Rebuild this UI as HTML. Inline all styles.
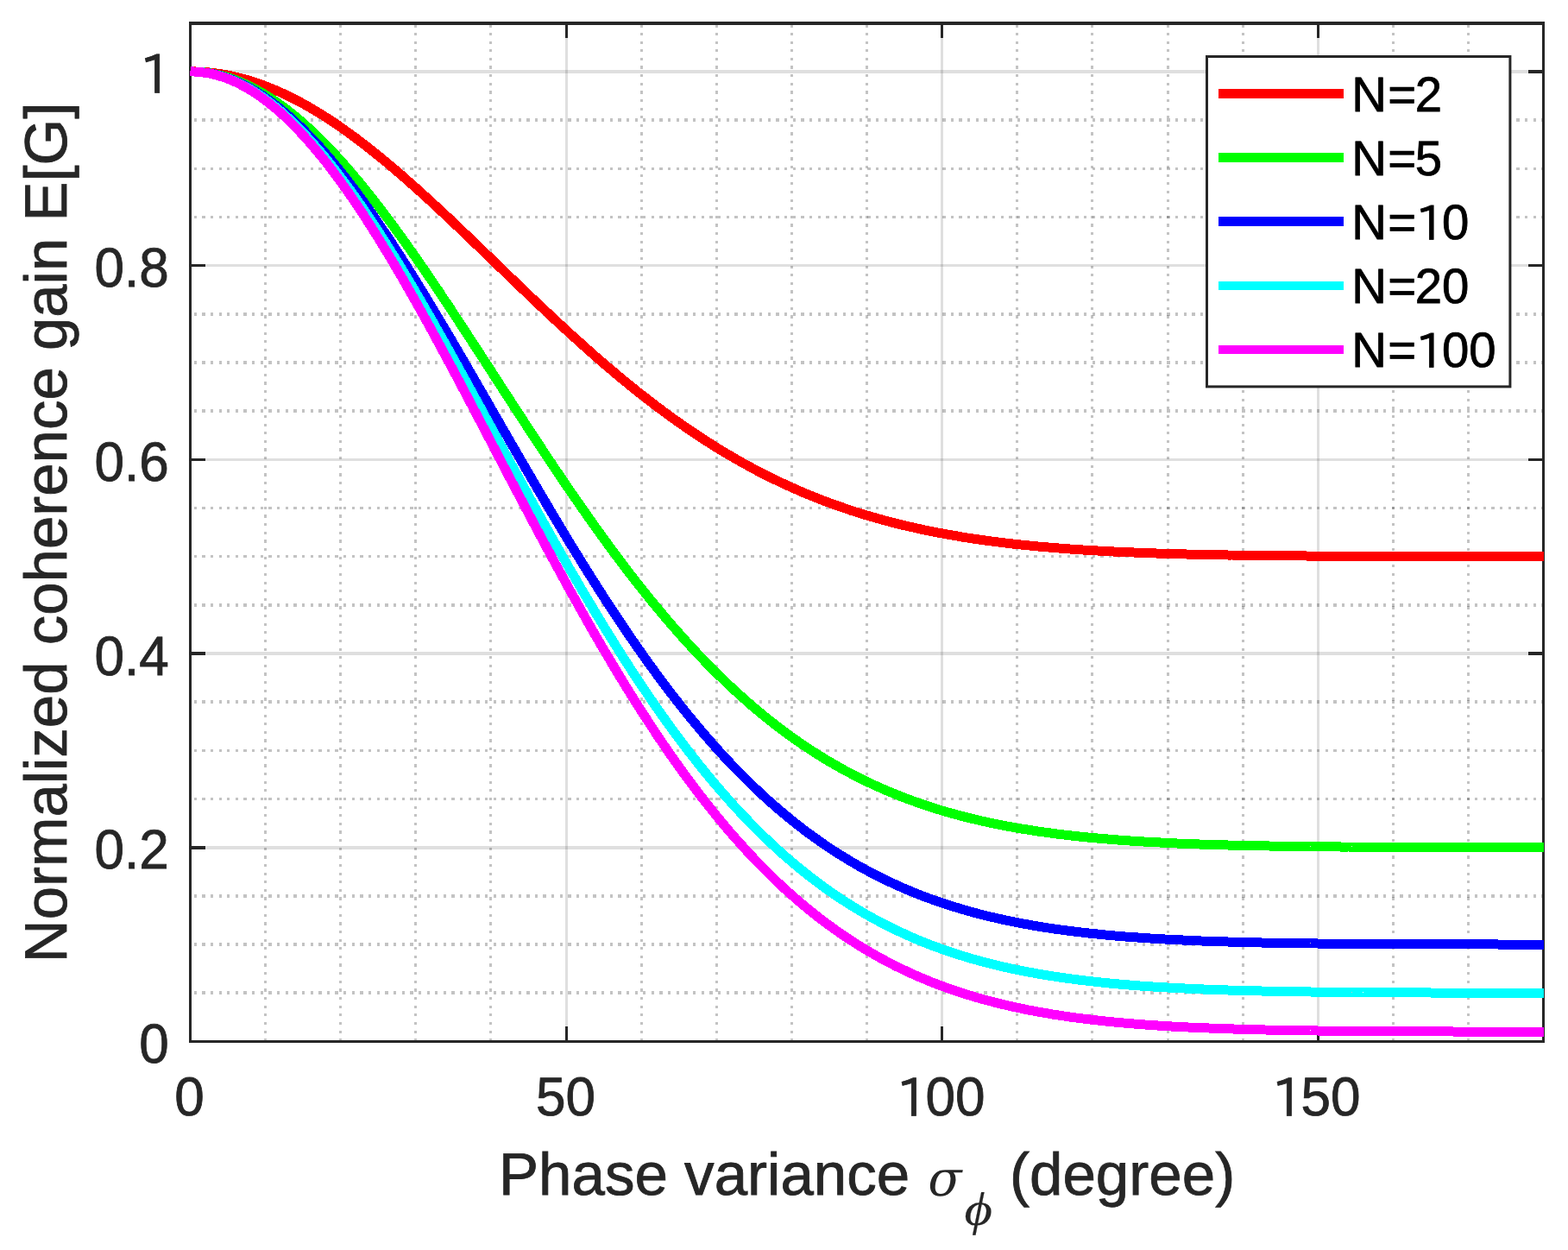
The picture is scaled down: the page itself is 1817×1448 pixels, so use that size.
<!DOCTYPE html>
<html><head><meta charset="utf-8"><title>Normalized coherence gain</title>
<style>html,body{margin:0;padding:0;background:#fff;}body{width:1817px;height:1448px;overflow:hidden;}svg{display:block;text-rendering:geometricPrecision;}</style>
</head><body>
<svg width="1817" height="1448" viewBox="0 0 1817 1448">
<rect x="0" y="0" width="1817" height="1448" fill="#fff"/>
<g shape-rendering="crispEdges" fill="none">
<path d="M307.62 28.3V1206.40M394.73 28.3V1206.40M481.85 28.3V1206.40M568.97 28.3V1206.40M743.20 28.3V1206.40M830.32 28.3V1206.40M917.43 28.3V1206.40M1004.55 28.3V1206.40M1178.78 28.3V1206.40M1265.90 28.3V1206.40M1353.02 28.3V1206.40M1440.13 28.3V1206.40M1614.37 28.3V1206.40M1701.48 28.3V1206.40" stroke="#262626" stroke-opacity="0.28" stroke-width="3" stroke-dasharray="3.2 6.43"/>
<path d="M224.6 1150.23H1788.60M224.6 1094.05H1788.60M224.6 1037.88H1788.60M224.6 925.53H1788.60M224.6 869.35H1788.60M224.6 813.18H1788.60M224.6 700.83H1788.60M224.6 644.65H1788.60M224.6 588.48H1788.60M224.6 476.13H1788.60M224.6 419.95H1788.60M224.6 363.78H1788.60M224.6 251.42H1788.60M224.6 195.25H1788.60M224.6 139.08H1788.60" stroke="#262626" stroke-opacity="0.28" stroke-width="3.5" stroke-dasharray="3.3 6.34"/>
<path d="M656.08 26.73V1206.40M1091.67 26.73V1206.40M1527.25 26.73V1206.40" stroke="#262626" stroke-opacity="0.15" stroke-width="3"/>
<path d="M220.50 981.80H1788.60M220.50 757.10H1788.60M220.50 532.40H1788.60M220.50 307.70H1788.60M220.50 83.00H1788.60" stroke="#262626" stroke-opacity="0.15" stroke-width="3.5"/>
<path d="M220.50 1206.40v-17.5M220.50 26.73v17.5M656.08 1206.40v-17.5M656.08 26.73v17.5M1091.67 1206.40v-17.5M1091.67 26.73v17.5M1527.25 1206.40v-17.5M1527.25 26.73v17.5" stroke="#262626" stroke-width="3"/>
<path d="M220.50 1206.40h17.5M1788.60 1206.40h-17.5M220.50 981.80h17.5M1788.60 981.80h-17.5M220.50 757.10h17.5M1788.60 757.10h-17.5M220.50 532.40h17.5M1788.60 532.40h-17.5M220.50 307.70h17.5M1788.60 307.70h-17.5M220.50 83.00h17.5M1788.60 83.00h-17.5" stroke="#262626" stroke-width="3.5"/>
<path d="M219.00 1206.40H1790.10" stroke="#262626" stroke-width="3"/>
<path d="M219.00 26.83H1790.10" stroke="#262626" stroke-width="4"/>
<path d="M220.50 25.23V1207.90M1788.60 25.23V1207.90" stroke="#262626" stroke-width="3"/>
</g>
<g fill="none" stroke-width="11" stroke-linejoin="round" shape-rendering="crispEdges">
<polyline points="220.5,82.9 224.9,82.9 229.2,83.1 233.6,83.3 237.9,83.6 242.3,84.0 246.6,84.4 251.0,85.0 255.3,85.6 259.7,86.4 264.1,87.2 268.4,88.1 272.8,89.0 277.1,90.1 281.5,91.2 285.8,92.4 290.2,93.7 294.5,95.1 298.9,96.6 303.3,98.1 307.6,99.8 312.0,101.5 316.3,103.2 320.7,105.1 325.0,107.0 329.4,109.0 333.8,111.1 338.1,113.2 342.5,115.5 346.8,117.7 351.2,120.1 355.5,122.5 359.9,125.0 364.2,127.6 368.6,130.2 373.0,132.9 377.3,135.7 381.7,138.5 386.0,141.4 390.4,144.3 394.7,147.3 399.1,150.4 403.4,153.5 407.8,156.7 412.2,159.9 416.5,163.2 420.9,166.5 425.2,169.9 429.6,173.3 433.9,176.8 438.3,180.3 442.6,183.8 447.0,187.4 451.4,191.1 455.7,194.8 460.1,198.5 464.4,202.2 468.8,206.0 473.1,209.9 477.5,213.7 481.9,217.6 486.2,221.5 490.6,225.5 494.9,229.4 499.3,233.4 503.6,237.4 508.0,241.5 512.3,245.6 516.7,249.6 521.1,253.7 525.4,257.9 529.8,262.0 534.1,266.1 538.5,270.3 542.8,274.5 547.2,278.6 551.5,282.8 555.9,287.0 560.3,291.2 564.6,295.4 569.0,299.6 573.3,303.8 577.7,308.0 582.0,312.2 586.4,316.4 590.7,320.6 595.1,324.8 599.5,329.0 603.8,333.2 608.2,337.3 612.5,341.5 616.9,345.7 621.2,349.8 625.6,353.9 629.9,358.0 634.3,362.1 638.7,366.2 643.0,370.3 647.4,374.3 651.7,378.3 656.1,382.3 660.4,386.3 664.8,390.3 669.2,394.2 673.5,398.1 677.9,402.0 682.2,405.9 686.6,409.7 690.9,413.6 695.3,417.4 699.6,421.1 704.0,424.8 708.4,428.5 712.7,432.2 717.1,435.9 721.4,439.5 725.8,443.0 730.1,446.6 734.5,450.1 738.8,453.6 743.2,457.0 747.6,460.4 751.9,463.8 756.3,467.2 760.6,470.5 765.0,473.7 769.3,477.0 773.7,480.2 778.0,483.3 782.4,486.5 786.8,489.6 791.1,492.6 795.5,495.6 799.8,498.6 804.2,501.5 808.5,504.4 812.9,507.3 817.2,510.1 821.6,512.9 826.0,515.7 830.3,518.4 834.7,521.1 839.0,523.7 843.4,526.3 847.7,528.8 852.1,531.4 856.5,533.8 860.8,536.3 865.2,538.7 869.5,541.1 873.9,543.4 878.2,545.7 882.6,548.0 886.9,550.2 891.3,552.4 895.7,554.5 900.0,556.6 904.4,558.7 908.7,560.7 913.1,562.7 917.4,564.7 921.8,566.6 926.1,568.5 930.5,570.4 934.9,572.2 939.2,574.0 943.6,575.8 947.9,577.5 952.3,579.2 956.6,580.8 961.0,582.5 965.3,584.1 969.7,585.6 974.1,587.1 978.4,588.6 982.8,590.1 987.1,591.6 991.5,593.0 995.8,594.3 1000.2,595.7 1004.5,597.0 1008.9,598.3 1013.3,599.6 1017.6,600.8 1022.0,602.0 1026.3,603.2 1030.7,604.3 1035.0,605.5 1039.4,606.6 1043.8,607.7 1048.1,608.7 1052.5,609.7 1056.8,610.7 1061.2,611.7 1065.5,612.7 1069.9,613.6 1074.2,614.5 1078.6,615.4 1083.0,616.3 1087.3,617.1 1091.7,617.9 1096.0,618.7 1100.4,619.5 1104.7,620.3 1109.1,621.0 1113.4,621.8 1117.8,622.5 1122.2,623.2 1126.5,623.8 1130.9,624.5 1135.2,625.1 1139.6,625.7 1143.9,626.3 1148.3,626.9 1152.6,627.5 1157.0,628.0 1161.4,628.6 1165.7,629.1 1170.1,629.6 1174.4,630.1 1178.8,630.6 1183.1,631.0 1187.5,631.5 1191.9,631.9 1196.2,632.3 1200.6,632.8 1204.9,633.2 1209.3,633.6 1213.6,633.9 1218.0,634.3 1222.3,634.7 1226.7,635.0 1231.1,635.3 1235.4,635.7 1239.8,636.0 1244.1,636.3 1248.5,636.6 1252.8,636.9 1257.2,637.1 1261.5,637.4 1265.9,637.7 1270.3,637.9 1274.6,638.2 1279.0,638.4 1283.3,638.6 1287.7,638.8 1292.0,639.1 1296.4,639.3 1300.7,639.5 1305.1,639.7 1309.5,639.8 1313.8,640.0 1318.2,640.2 1322.5,640.4 1326.9,640.5 1331.2,640.7 1335.6,640.8 1339.9,641.0 1344.3,641.1 1348.7,641.3 1353.0,641.4 1357.4,641.5 1361.7,641.6 1366.1,641.8 1370.4,641.9 1374.8,642.0 1379.2,642.1 1383.5,642.2 1387.9,642.3 1392.2,642.4 1396.6,642.5 1400.9,642.6 1405.3,642.6 1409.6,642.7 1414.0,642.8 1418.4,642.9 1422.7,643.0 1427.1,643.0 1431.4,643.1 1435.8,643.2 1440.1,643.2 1444.5,643.3 1448.8,643.3 1453.2,643.4 1457.6,643.4 1461.9,643.5 1466.3,643.5 1470.6,643.6 1475.0,643.6 1479.3,643.7 1483.7,643.7 1488.0,643.8 1492.4,643.8 1496.8,643.8 1501.1,643.9 1505.5,643.9 1509.8,643.9 1514.2,644.0 1518.5,644.0 1522.9,644.0 1527.2,644.1 1531.6,644.1 1536.0,644.1 1540.3,644.1 1544.7,644.2 1549.0,644.2 1553.4,644.2 1557.7,644.2 1562.1,644.2 1566.5,644.3 1570.8,644.3 1575.2,644.3 1579.5,644.3 1583.9,644.3 1588.2,644.3 1592.6,644.4 1596.9,644.4 1601.3,644.4 1605.7,644.4 1610.0,644.4 1614.4,644.4 1618.7,644.4 1623.1,644.4 1627.4,644.5 1631.8,644.5 1636.1,644.5 1640.5,644.5 1644.9,644.5 1649.2,644.5 1653.6,644.5 1657.9,644.5 1662.3,644.5 1666.6,644.5 1671.0,644.5 1675.3,644.5 1679.7,644.5 1684.1,644.5 1688.4,644.6 1692.8,644.6 1697.1,644.6 1701.5,644.6 1705.8,644.6 1710.2,644.6 1714.6,644.6 1718.9,644.6 1723.3,644.6 1727.6,644.6 1732.0,644.6 1736.3,644.6 1740.7,644.6 1745.0,644.6 1749.4,644.6 1753.8,644.6 1758.1,644.6 1762.5,644.6 1766.8,644.6 1771.2,644.6 1775.5,644.6 1779.9,644.6 1784.2,644.6 1788.6,644.6" stroke="#ff0000"/>
<polyline points="220.5,82.9 224.9,83.0 229.2,83.2 233.6,83.5 237.9,84.0 242.3,84.6 246.6,85.4 251.0,86.2 255.3,87.3 259.7,88.4 264.1,89.7 268.4,91.1 272.8,92.7 277.1,94.4 281.5,96.2 285.8,98.2 290.2,100.3 294.5,102.5 298.9,104.8 303.3,107.3 307.6,109.9 312.0,112.6 316.3,115.4 320.7,118.4 325.0,121.5 329.4,124.7 333.8,128.0 338.1,131.4 342.5,135.0 346.8,138.7 351.2,142.4 355.5,146.3 359.9,150.3 364.2,154.4 368.6,158.6 373.0,163.0 377.3,167.4 381.7,171.9 386.0,176.5 390.4,181.2 394.7,186.0 399.1,190.9 403.4,195.9 407.8,201.0 412.2,206.1 416.5,211.3 420.9,216.7 425.2,222.1 429.6,227.5 433.9,233.1 438.3,238.7 442.6,244.4 447.0,250.2 451.4,256.0 455.7,261.9 460.1,267.8 464.4,273.8 468.8,279.9 473.1,286.0 477.5,292.2 481.9,298.4 486.2,304.7 490.6,311.0 494.9,317.4 499.3,323.7 503.6,330.2 508.0,336.6 512.3,343.1 516.7,349.7 521.1,356.2 525.4,362.8 529.8,369.4 534.1,376.1 538.5,382.7 542.8,389.4 547.2,396.1 551.5,402.8 555.9,409.5 560.3,416.2 564.6,422.9 569.0,429.6 573.3,436.4 577.7,443.1 582.0,449.8 586.4,456.5 590.7,463.2 595.1,470.0 599.5,476.7 603.8,483.3 608.2,490.0 612.5,496.7 616.9,503.3 621.2,509.9 625.6,516.5 629.9,523.1 634.3,529.7 638.7,536.2 643.0,542.7 647.4,549.2 651.7,555.6 656.1,562.0 660.4,568.4 664.8,574.7 669.2,581.0 673.5,587.3 677.9,593.5 682.2,599.7 686.6,605.9 690.9,612.0 695.3,618.0 699.6,624.0 704.0,630.0 708.4,635.9 712.7,641.8 717.1,647.6 721.4,653.4 725.8,659.1 730.1,664.8 734.5,670.4 738.8,676.0 743.2,681.5 747.6,687.0 751.9,692.4 756.3,697.7 760.6,703.0 765.0,708.2 769.3,713.4 773.7,718.5 778.0,723.6 782.4,728.6 786.8,733.5 791.1,738.4 795.5,743.3 799.8,748.0 804.2,752.7 808.5,757.4 812.9,761.9 817.2,766.5 821.6,770.9 826.0,775.3 830.3,779.7 834.7,783.9 839.0,788.2 843.4,792.3 847.7,796.4 852.1,800.4 856.5,804.4 860.8,808.3 865.2,812.2 869.5,816.0 873.9,819.7 878.2,823.4 882.6,827.0 886.9,830.5 891.3,834.0 895.7,837.5 900.0,840.8 904.4,844.2 908.7,847.4 913.1,850.6 917.4,853.8 921.8,856.9 926.1,859.9 930.5,862.9 934.9,865.8 939.2,868.7 943.6,871.5 947.9,874.2 952.3,876.9 956.6,879.6 961.0,882.2 965.3,884.7 969.7,887.2 974.1,889.7 978.4,892.1 982.8,894.4 987.1,896.7 991.5,899.0 995.8,901.2 1000.2,903.4 1004.5,905.5 1008.9,907.5 1013.3,909.6 1017.6,911.5 1022.0,913.5 1026.3,915.4 1030.7,917.2 1035.0,919.0 1039.4,920.8 1043.8,922.5 1048.1,924.2 1052.5,925.8 1056.8,927.4 1061.2,929.0 1065.5,930.5 1069.9,932.0 1074.2,933.5 1078.6,934.9 1083.0,936.3 1087.3,937.7 1091.7,939.0 1096.0,940.3 1100.4,941.5 1104.7,942.7 1109.1,943.9 1113.4,945.1 1117.8,946.2 1122.2,947.3 1126.5,948.4 1130.9,949.4 1135.2,950.4 1139.6,951.4 1143.9,952.4 1148.3,953.3 1152.6,954.2 1157.0,955.1 1161.4,956.0 1165.7,956.8 1170.1,957.6 1174.4,958.4 1178.8,959.2 1183.1,959.9 1187.5,960.6 1191.9,961.3 1196.2,962.0 1200.6,962.7 1204.9,963.3 1209.3,963.9 1213.6,964.5 1218.0,965.1 1222.3,965.7 1226.7,966.3 1231.1,966.8 1235.4,967.3 1239.8,967.8 1244.1,968.3 1248.5,968.8 1252.8,969.2 1257.2,969.7 1261.5,970.1 1265.9,970.5 1270.3,970.9 1274.6,971.3 1279.0,971.7 1283.3,972.0 1287.7,972.4 1292.0,972.7 1296.4,973.1 1300.7,973.4 1305.1,973.7 1309.5,974.0 1313.8,974.3 1318.2,974.6 1322.5,974.8 1326.9,975.1 1331.2,975.3 1335.6,975.6 1339.9,975.8 1344.3,976.0 1348.7,976.3 1353.0,976.5 1357.4,976.7 1361.7,976.9 1366.1,977.1 1370.4,977.2 1374.8,977.4 1379.2,977.6 1383.5,977.8 1387.9,977.9 1392.2,978.1 1396.6,978.2 1400.9,978.4 1405.3,978.5 1409.6,978.6 1414.0,978.7 1418.4,978.9 1422.7,979.0 1427.1,979.1 1431.4,979.2 1435.8,979.3 1440.1,979.4 1444.5,979.5 1448.8,979.6 1453.2,979.7 1457.6,979.8 1461.9,979.8 1466.3,979.9 1470.6,980.0 1475.0,980.1 1479.3,980.1 1483.7,980.2 1488.0,980.3 1492.4,980.3 1496.8,980.4 1501.1,980.5 1505.5,980.5 1509.8,980.6 1514.2,980.6 1518.5,980.7 1522.9,980.7 1527.2,980.8 1531.6,980.8 1536.0,980.8 1540.3,980.9 1544.7,980.9 1549.0,980.9 1553.4,981.0 1557.7,981.0 1562.1,981.0 1566.5,981.1 1570.8,981.1 1575.2,981.1 1579.5,981.2 1583.9,981.2 1588.2,981.2 1592.6,981.2 1596.9,981.3 1601.3,981.3 1605.7,981.3 1610.0,981.3 1614.4,981.3 1618.7,981.3 1623.1,981.4 1627.4,981.4 1631.8,981.4 1636.1,981.4 1640.5,981.4 1644.9,981.4 1649.2,981.5 1653.6,981.5 1657.9,981.5 1662.3,981.5 1666.6,981.5 1671.0,981.5 1675.3,981.5 1679.7,981.5 1684.1,981.5 1688.4,981.5 1692.8,981.6 1697.1,981.6 1701.5,981.6 1705.8,981.6 1710.2,981.6 1714.6,981.6 1718.9,981.6 1723.3,981.6 1727.6,981.6 1732.0,981.6 1736.3,981.6 1740.7,981.6 1745.0,981.6 1749.4,981.6 1753.8,981.6 1758.1,981.6 1762.5,981.6 1766.8,981.6 1771.2,981.6 1775.5,981.6 1779.9,981.6 1784.2,981.7 1788.6,981.7" stroke="#00ff00"/>
<polyline points="220.5,82.9 224.9,83.0 229.2,83.2 233.6,83.6 237.9,84.1 242.3,84.8 246.6,85.7 251.0,86.7 255.3,87.8 259.7,89.1 264.1,90.6 268.4,92.2 272.8,93.9 277.1,95.8 281.5,97.9 285.8,100.1 290.2,102.4 294.5,104.9 298.9,107.5 303.3,110.3 307.6,113.2 312.0,116.3 316.3,119.5 320.7,122.8 325.0,126.3 329.4,129.9 333.8,133.6 338.1,137.5 342.5,141.5 346.8,145.6 351.2,149.9 355.5,154.3 359.9,158.8 364.2,163.4 368.6,168.1 373.0,173.0 377.3,177.9 381.7,183.0 386.0,188.2 390.4,193.5 394.7,198.9 399.1,204.4 403.4,210.0 407.8,215.7 412.2,221.5 416.5,227.4 420.9,233.4 425.2,239.5 429.6,245.6 433.9,251.9 438.3,258.2 442.6,264.6 447.0,271.1 451.4,277.6 455.7,284.3 460.1,291.0 464.4,297.7 468.8,304.5 473.1,311.4 477.5,318.4 481.9,325.4 486.2,332.4 490.6,339.5 494.9,346.7 499.3,353.9 503.6,361.1 508.0,368.4 512.3,375.7 516.7,383.0 521.1,390.4 525.4,397.8 529.8,405.3 534.1,412.7 538.5,420.2 542.8,427.7 547.2,435.2 551.5,442.7 555.9,450.3 560.3,457.8 564.6,465.4 569.0,473.0 573.3,480.5 577.7,488.1 582.0,495.7 586.4,503.2 590.7,510.8 595.1,518.3 599.5,525.9 603.8,533.4 608.2,540.9 612.5,548.4 616.9,555.9 621.2,563.3 625.6,570.7 629.9,578.1 634.3,585.5 638.7,592.9 643.0,600.2 647.4,607.4 651.7,614.7 656.1,621.9 660.4,629.1 664.8,636.2 669.2,643.3 673.5,650.3 677.9,657.4 682.2,664.3 686.6,671.2 690.9,678.1 695.3,684.9 699.6,691.7 704.0,698.4 708.4,705.1 712.7,711.7 717.1,718.2 721.4,724.7 725.8,731.2 730.1,737.5 734.5,743.9 738.8,750.1 743.2,756.3 747.6,762.5 751.9,768.6 756.3,774.6 760.6,780.5 765.0,786.4 769.3,792.2 773.7,798.0 778.0,803.7 782.4,809.3 786.8,814.9 791.1,820.4 795.5,825.8 799.8,831.2 804.2,836.4 808.5,841.7 812.9,846.8 817.2,851.9 821.6,856.9 826.0,861.9 830.3,866.8 834.7,871.6 839.0,876.3 843.4,881.0 847.7,885.6 852.1,890.1 856.5,894.6 860.8,899.0 865.2,903.3 869.5,907.6 873.9,911.8 878.2,915.9 882.6,920.0 886.9,924.0 891.3,927.9 895.7,931.8 900.0,935.6 904.4,939.3 908.7,943.0 913.1,946.6 917.4,950.1 921.8,953.6 926.1,957.0 930.5,960.4 934.9,963.7 939.2,966.9 943.6,970.0 947.9,973.1 952.3,976.2 956.6,979.2 961.0,982.1 965.3,985.0 969.7,987.8 974.1,990.5 978.4,993.2 982.8,995.9 987.1,998.5 991.5,1001.0 995.8,1003.5 1000.2,1005.9 1004.5,1008.3 1008.9,1010.6 1013.3,1012.9 1017.6,1015.1 1022.0,1017.3 1026.3,1019.4 1030.7,1021.5 1035.0,1023.5 1039.4,1025.5 1043.8,1027.5 1048.1,1029.4 1052.5,1031.2 1056.8,1033.0 1061.2,1034.8 1065.5,1036.5 1069.9,1038.2 1074.2,1039.8 1078.6,1041.4 1083.0,1043.0 1087.3,1044.5 1091.7,1046.0 1096.0,1047.4 1100.4,1048.8 1104.7,1050.2 1109.1,1051.5 1113.4,1052.8 1117.8,1054.1 1122.2,1055.4 1126.5,1056.6 1130.9,1057.7 1135.2,1058.9 1139.6,1060.0 1143.9,1061.1 1148.3,1062.1 1152.6,1063.1 1157.0,1064.1 1161.4,1065.1 1165.7,1066.0 1170.1,1066.9 1174.4,1067.8 1178.8,1068.7 1183.1,1069.5 1187.5,1070.3 1191.9,1071.1 1196.2,1071.9 1200.6,1072.6 1204.9,1073.4 1209.3,1074.1 1213.6,1074.8 1218.0,1075.4 1222.3,1076.1 1226.7,1076.7 1231.1,1077.3 1235.4,1077.9 1239.8,1078.4 1244.1,1079.0 1248.5,1079.5 1252.8,1080.0 1257.2,1080.5 1261.5,1081.0 1265.9,1081.5 1270.3,1081.9 1274.6,1082.4 1279.0,1082.8 1283.3,1083.2 1287.7,1083.6 1292.0,1084.0 1296.4,1084.3 1300.7,1084.7 1305.1,1085.1 1309.5,1085.4 1313.8,1085.7 1318.2,1086.0 1322.5,1086.3 1326.9,1086.6 1331.2,1086.9 1335.6,1087.2 1339.9,1087.4 1344.3,1087.7 1348.7,1087.9 1353.0,1088.2 1357.4,1088.4 1361.7,1088.6 1366.1,1088.8 1370.4,1089.0 1374.8,1089.2 1379.2,1089.4 1383.5,1089.6 1387.9,1089.8 1392.2,1090.0 1396.6,1090.1 1400.9,1090.3 1405.3,1090.4 1409.6,1090.6 1414.0,1090.7 1418.4,1090.9 1422.7,1091.0 1427.1,1091.1 1431.4,1091.2 1435.8,1091.4 1440.1,1091.5 1444.5,1091.6 1448.8,1091.7 1453.2,1091.8 1457.6,1091.9 1461.9,1092.0 1466.3,1092.1 1470.6,1092.1 1475.0,1092.2 1479.3,1092.3 1483.7,1092.4 1488.0,1092.4 1492.4,1092.5 1496.8,1092.6 1501.1,1092.7 1505.5,1092.7 1509.8,1092.8 1514.2,1092.8 1518.5,1092.9 1522.9,1092.9 1527.2,1093.0 1531.6,1093.0 1536.0,1093.1 1540.3,1093.1 1544.7,1093.2 1549.0,1093.2 1553.4,1093.2 1557.7,1093.3 1562.1,1093.3 1566.5,1093.3 1570.8,1093.4 1575.2,1093.4 1579.5,1093.4 1583.9,1093.5 1588.2,1093.5 1592.6,1093.5 1596.9,1093.5 1601.3,1093.6 1605.7,1093.6 1610.0,1093.6 1614.4,1093.6 1618.7,1093.7 1623.1,1093.7 1627.4,1093.7 1631.8,1093.7 1636.1,1093.7 1640.5,1093.7 1644.9,1093.8 1649.2,1093.8 1653.6,1093.8 1657.9,1093.8 1662.3,1093.8 1666.6,1093.8 1671.0,1093.8 1675.3,1093.8 1679.7,1093.9 1684.1,1093.9 1688.4,1093.9 1692.8,1093.9 1697.1,1093.9 1701.5,1093.9 1705.8,1093.9 1710.2,1093.9 1714.6,1093.9 1718.9,1093.9 1723.3,1093.9 1727.6,1093.9 1732.0,1093.9 1736.3,1094.0 1740.7,1094.0 1745.0,1094.0 1749.4,1094.0 1753.8,1094.0 1758.1,1094.0 1762.5,1094.0 1766.8,1094.0 1771.2,1094.0 1775.5,1094.0 1779.9,1094.0 1784.2,1094.0 1788.6,1094.0" stroke="#0000ff"/>
<polyline points="220.5,82.9 224.9,83.0 229.2,83.2 233.6,83.6 237.9,84.2 242.3,84.9 246.6,85.8 251.0,86.9 255.3,88.1 259.7,89.5 264.1,91.0 268.4,92.7 272.8,94.5 277.1,96.5 281.5,98.7 285.8,101.0 290.2,103.5 294.5,106.1 298.9,108.9 303.3,111.8 307.6,114.9 312.0,118.1 316.3,121.5 320.7,125.0 325.0,128.7 329.4,132.5 333.8,136.5 338.1,140.5 342.5,144.8 346.8,149.1 351.2,153.6 355.5,158.2 359.9,163.0 364.2,167.8 368.6,172.8 373.0,178.0 377.3,183.2 381.7,188.6 386.0,194.0 390.4,199.6 394.7,205.3 399.1,211.2 403.4,217.1 407.8,223.1 412.2,229.2 416.5,235.4 420.9,241.7 425.2,248.2 429.6,254.7 433.9,261.3 438.3,267.9 442.6,274.7 447.0,281.5 451.4,288.5 455.7,295.4 460.1,302.5 464.4,309.6 468.8,316.8 473.1,324.1 477.5,331.4 481.9,338.8 486.2,346.3 490.6,353.8 494.9,361.3 499.3,368.9 503.6,376.5 508.0,384.2 512.3,391.9 516.7,399.7 521.1,407.5 525.4,415.3 529.8,423.2 534.1,431.0 538.5,438.9 542.8,446.9 547.2,454.8 551.5,462.7 555.9,470.7 560.3,478.7 564.6,486.7 569.0,494.6 573.3,502.6 577.7,510.6 582.0,518.6 586.4,526.6 590.7,534.6 595.1,542.5 599.5,550.5 603.8,558.4 608.2,566.3 612.5,574.3 616.9,582.1 621.2,590.0 625.6,597.8 629.9,605.6 634.3,613.4 638.7,621.2 643.0,628.9 647.4,636.6 651.7,644.2 656.1,651.8 660.4,659.4 664.8,666.9 669.2,674.4 673.5,681.9 677.9,689.3 682.2,696.6 686.6,703.9 690.9,711.2 695.3,718.4 699.6,725.5 704.0,732.6 708.4,739.6 712.7,746.6 717.1,753.5 721.4,760.4 725.8,767.2 730.1,773.9 734.5,780.6 738.8,787.2 743.2,793.7 747.6,800.2 751.9,806.6 756.3,813.0 760.6,819.3 765.0,825.5 769.3,831.6 773.7,837.7 778.0,843.7 782.4,849.7 786.8,855.5 791.1,861.3 795.5,867.1 799.8,872.7 804.2,878.3 808.5,883.8 812.9,889.3 817.2,894.6 821.6,899.9 826.0,905.2 830.3,910.3 834.7,915.4 839.0,920.4 843.4,925.3 847.7,930.2 852.1,935.0 856.5,939.7 860.8,944.3 865.2,948.9 869.5,953.4 873.9,957.9 878.2,962.2 882.6,966.5 886.9,970.7 891.3,974.9 895.7,978.9 900.0,983.0 904.4,986.9 908.7,990.8 913.1,994.6 917.4,998.3 921.8,1002.0 926.1,1005.6 930.5,1009.1 934.9,1012.6 939.2,1016.0 943.6,1019.3 947.9,1022.6 952.3,1025.8 956.6,1029.0 961.0,1032.1 965.3,1035.1 969.7,1038.1 974.1,1041.0 978.4,1043.8 982.8,1046.6 987.1,1049.3 991.5,1052.0 995.8,1054.6 1000.2,1057.2 1004.5,1059.7 1008.9,1062.2 1013.3,1064.6 1017.6,1066.9 1022.0,1069.2 1026.3,1071.5 1030.7,1073.6 1035.0,1075.8 1039.4,1077.9 1043.8,1079.9 1048.1,1081.9 1052.5,1083.9 1056.8,1085.8 1061.2,1087.7 1065.5,1089.5 1069.9,1091.2 1074.2,1093.0 1078.6,1094.7 1083.0,1096.3 1087.3,1097.9 1091.7,1099.5 1096.0,1101.0 1100.4,1102.5 1104.7,1103.9 1109.1,1105.4 1113.4,1106.7 1117.8,1108.1 1122.2,1109.4 1126.5,1110.7 1130.9,1111.9 1135.2,1113.1 1139.6,1114.3 1143.9,1115.4 1148.3,1116.5 1152.6,1117.6 1157.0,1118.6 1161.4,1119.7 1165.7,1120.7 1170.1,1121.6 1174.4,1122.6 1178.8,1123.5 1183.1,1124.3 1187.5,1125.2 1191.9,1126.0 1196.2,1126.8 1200.6,1127.6 1204.9,1128.4 1209.3,1129.1 1213.6,1129.9 1218.0,1130.6 1222.3,1131.2 1226.7,1131.9 1231.1,1132.5 1235.4,1133.1 1239.8,1133.7 1244.1,1134.3 1248.5,1134.9 1252.8,1135.4 1257.2,1135.9 1261.5,1136.4 1265.9,1136.9 1270.3,1137.4 1274.6,1137.9 1279.0,1138.3 1283.3,1138.8 1287.7,1139.2 1292.0,1139.6 1296.4,1140.0 1300.7,1140.4 1305.1,1140.7 1309.5,1141.1 1313.8,1141.4 1318.2,1141.8 1322.5,1142.1 1326.9,1142.4 1331.2,1142.7 1335.6,1143.0 1339.9,1143.2 1344.3,1143.5 1348.7,1143.8 1353.0,1144.0 1357.4,1144.3 1361.7,1144.5 1366.1,1144.7 1370.4,1144.9 1374.8,1145.1 1379.2,1145.3 1383.5,1145.5 1387.9,1145.7 1392.2,1145.9 1396.6,1146.1 1400.9,1146.2 1405.3,1146.4 1409.6,1146.6 1414.0,1146.7 1418.4,1146.9 1422.7,1147.0 1427.1,1147.1 1431.4,1147.3 1435.8,1147.4 1440.1,1147.5 1444.5,1147.6 1448.8,1147.7 1453.2,1147.8 1457.6,1147.9 1461.9,1148.0 1466.3,1148.1 1470.6,1148.2 1475.0,1148.3 1479.3,1148.4 1483.7,1148.5 1488.0,1148.5 1492.4,1148.6 1496.8,1148.7 1501.1,1148.7 1505.5,1148.8 1509.8,1148.9 1514.2,1148.9 1518.5,1149.0 1522.9,1149.0 1527.2,1149.1 1531.6,1149.1 1536.0,1149.2 1540.3,1149.2 1544.7,1149.3 1549.0,1149.3 1553.4,1149.4 1557.7,1149.4 1562.1,1149.4 1566.5,1149.5 1570.8,1149.5 1575.2,1149.5 1579.5,1149.6 1583.9,1149.6 1588.2,1149.6 1592.6,1149.7 1596.9,1149.7 1601.3,1149.7 1605.7,1149.7 1610.0,1149.8 1614.4,1149.8 1618.7,1149.8 1623.1,1149.8 1627.4,1149.8 1631.8,1149.9 1636.1,1149.9 1640.5,1149.9 1644.9,1149.9 1649.2,1149.9 1653.6,1149.9 1657.9,1150.0 1662.3,1150.0 1666.6,1150.0 1671.0,1150.0 1675.3,1150.0 1679.7,1150.0 1684.1,1150.0 1688.4,1150.0 1692.8,1150.0 1697.1,1150.1 1701.5,1150.1 1705.8,1150.1 1710.2,1150.1 1714.6,1150.1 1718.9,1150.1 1723.3,1150.1 1727.6,1150.1 1732.0,1150.1 1736.3,1150.1 1740.7,1150.1 1745.0,1150.1 1749.4,1150.1 1753.8,1150.1 1758.1,1150.1 1762.5,1150.1 1766.8,1150.2 1771.2,1150.2 1775.5,1150.2 1779.9,1150.2 1784.2,1150.2 1788.6,1150.2" stroke="#00ffff"/>
<polyline points="220.5,82.9 224.9,83.0 229.2,83.2 233.6,83.7 237.9,84.3 242.3,85.0 246.6,85.9 251.0,87.0 255.3,88.3 259.7,89.7 264.1,91.3 268.4,93.1 272.8,95.0 277.1,97.1 281.5,99.4 285.8,101.8 290.2,104.4 294.5,107.1 298.9,110.0 303.3,113.1 307.6,116.3 312.0,119.6 316.3,123.2 320.7,126.8 325.0,130.6 329.4,134.6 333.8,138.7 338.1,143.0 342.5,147.4 346.8,151.9 351.2,156.6 355.5,161.4 359.9,166.3 364.2,171.4 368.6,176.6 373.0,182.0 377.3,187.4 381.7,193.0 386.0,198.7 390.4,204.6 394.7,210.5 399.1,216.6 403.4,222.7 407.8,229.0 412.2,235.4 416.5,241.9 420.9,248.4 425.2,255.1 429.6,261.9 433.9,268.8 438.3,275.7 442.6,282.8 447.0,289.9 451.4,297.1 455.7,304.4 460.1,311.8 464.4,319.2 468.8,326.7 473.1,334.3 477.5,341.9 481.9,349.6 486.2,357.4 490.6,365.2 494.9,373.0 499.3,380.9 503.6,388.9 508.0,396.9 512.3,405.0 516.7,413.0 521.1,421.2 525.4,429.3 529.8,437.5 534.1,445.7 538.5,453.9 542.8,462.2 547.2,470.4 551.5,478.7 555.9,487.0 560.3,495.3 564.6,503.7 569.0,512.0 573.3,520.3 577.7,528.6 582.0,537.0 586.4,545.3 590.7,553.6 595.1,561.9 599.5,570.2 603.8,578.4 608.2,586.7 612.5,594.9 616.9,603.2 621.2,611.4 625.6,619.5 629.9,627.7 634.3,635.8 638.7,643.8 643.0,651.9 647.4,659.9 651.7,667.9 656.1,675.8 660.4,683.7 664.8,691.5 669.2,699.3 673.5,707.1 677.9,714.8 682.2,722.5 686.6,730.1 690.9,737.6 695.3,745.1 699.6,752.6 704.0,759.9 708.4,767.3 712.7,774.5 717.1,781.8 721.4,788.9 725.8,796.0 730.1,803.0 734.5,810.0 738.8,816.8 743.2,823.7 747.6,830.4 751.9,837.1 756.3,843.7 760.6,850.3 765.0,856.8 769.3,863.2 773.7,869.5 778.0,875.8 782.4,882.0 786.8,888.1 791.1,894.1 795.5,900.1 799.8,906.0 804.2,911.8 808.5,917.5 812.9,923.2 817.2,928.8 821.6,934.3 826.0,939.8 830.3,945.1 834.7,950.4 839.0,955.7 843.4,960.8 847.7,965.9 852.1,970.9 856.5,975.8 860.8,980.6 865.2,985.4 869.5,990.1 873.9,994.7 878.2,999.2 882.6,1003.7 886.9,1008.1 891.3,1012.4 895.7,1016.7 900.0,1020.9 904.4,1025.0 908.7,1029.0 913.1,1033.0 917.4,1036.8 921.8,1040.7 926.1,1044.4 930.5,1048.1 934.9,1051.7 939.2,1055.3 943.6,1058.8 947.9,1062.2 952.3,1065.5 956.6,1068.8 961.0,1072.0 965.3,1075.2 969.7,1078.3 974.1,1081.3 978.4,1084.3 982.8,1087.2 987.1,1090.0 991.5,1092.8 995.8,1095.6 1000.2,1098.2 1004.5,1100.8 1008.9,1103.4 1013.3,1105.9 1017.6,1108.3 1022.0,1110.7 1026.3,1113.1 1030.7,1115.4 1035.0,1117.6 1039.4,1119.8 1043.8,1121.9 1048.1,1124.0 1052.5,1126.0 1056.8,1128.0 1061.2,1130.0 1065.5,1131.9 1069.9,1133.7 1074.2,1135.5 1078.6,1137.3 1083.0,1139.0 1087.3,1140.7 1091.7,1142.3 1096.0,1143.9 1100.4,1145.4 1104.7,1146.9 1109.1,1148.4 1113.4,1149.8 1117.8,1151.2 1122.2,1152.6 1126.5,1153.9 1130.9,1155.2 1135.2,1156.5 1139.6,1157.7 1143.9,1158.9 1148.3,1160.0 1152.6,1161.2 1157.0,1162.3 1161.4,1163.3 1165.7,1164.3 1170.1,1165.4 1174.4,1166.3 1178.8,1167.3 1183.1,1168.2 1187.5,1169.1 1191.9,1170.0 1196.2,1170.8 1200.6,1171.6 1204.9,1172.4 1209.3,1173.2 1213.6,1173.9 1218.0,1174.7 1222.3,1175.4 1226.7,1176.0 1231.1,1176.7 1235.4,1177.4 1239.8,1178.0 1244.1,1178.6 1248.5,1179.2 1252.8,1179.7 1257.2,1180.3 1261.5,1180.8 1265.9,1181.3 1270.3,1181.8 1274.6,1182.3 1279.0,1182.8 1283.3,1183.2 1287.7,1183.7 1292.0,1184.1 1296.4,1184.5 1300.7,1184.9 1305.1,1185.3 1309.5,1185.6 1313.8,1186.0 1318.2,1186.3 1322.5,1186.7 1326.9,1187.0 1331.2,1187.3 1335.6,1187.6 1339.9,1187.9 1344.3,1188.2 1348.7,1188.4 1353.0,1188.7 1357.4,1189.0 1361.7,1189.2 1366.1,1189.4 1370.4,1189.7 1374.8,1189.9 1379.2,1190.1 1383.5,1190.3 1387.9,1190.5 1392.2,1190.7 1396.6,1190.8 1400.9,1191.0 1405.3,1191.2 1409.6,1191.4 1414.0,1191.5 1418.4,1191.7 1422.7,1191.8 1427.1,1191.9 1431.4,1192.1 1435.8,1192.2 1440.1,1192.3 1444.5,1192.4 1448.8,1192.6 1453.2,1192.7 1457.6,1192.8 1461.9,1192.9 1466.3,1193.0 1470.6,1193.1 1475.0,1193.2 1479.3,1193.2 1483.7,1193.3 1488.0,1193.4 1492.4,1193.5 1496.8,1193.6 1501.1,1193.6 1505.5,1193.7 1509.8,1193.8 1514.2,1193.8 1518.5,1193.9 1522.9,1193.9 1527.2,1194.0 1531.6,1194.0 1536.0,1194.1 1540.3,1194.1 1544.7,1194.2 1549.0,1194.2 1553.4,1194.3 1557.7,1194.3 1562.1,1194.4 1566.5,1194.4 1570.8,1194.4 1575.2,1194.5 1579.5,1194.5 1583.9,1194.5 1588.2,1194.6 1592.6,1194.6 1596.9,1194.6 1601.3,1194.6 1605.7,1194.7 1610.0,1194.7 1614.4,1194.7 1618.7,1194.7 1623.1,1194.8 1627.4,1194.8 1631.8,1194.8 1636.1,1194.8 1640.5,1194.8 1644.9,1194.8 1649.2,1194.9 1653.6,1194.9 1657.9,1194.9 1662.3,1194.9 1666.6,1194.9 1671.0,1194.9 1675.3,1194.9 1679.7,1194.9 1684.1,1195.0 1688.4,1195.0 1692.8,1195.0 1697.1,1195.0 1701.5,1195.0 1705.8,1195.0 1710.2,1195.0 1714.6,1195.0 1718.9,1195.0 1723.3,1195.0 1727.6,1195.0 1732.0,1195.0 1736.3,1195.1 1740.7,1195.1 1745.0,1195.1 1749.4,1195.1 1753.8,1195.1 1758.1,1195.1 1762.5,1195.1 1766.8,1195.1 1771.2,1195.1 1775.5,1195.1 1779.9,1195.1 1784.2,1195.1 1788.6,1195.1" stroke="#ff00ff"/>
</g>
<g font-family="Liberation Sans, Arial, sans-serif" font-size="63" fill="#262626" stroke="#262626" stroke-width="0.8">
<text transform="translate(195.70 1230.90) scale(0.985 1.02)"><tspan x="-35.04" y="0">0</tspan></text>
<text transform="translate(195.70 1006.20) scale(0.985 1.02)"><tspan x="-87.58 -52.54 -35.04" y="0">0.2</tspan></text>
<text transform="translate(195.70 781.50) scale(0.985 1.02)"><tspan x="-87.58 -52.54 -35.04" y="0">0.4</tspan></text>
<text transform="translate(195.70 556.80) scale(0.985 1.02)"><tspan x="-87.58 -52.54 -35.04" y="0">0.6</tspan></text>
<text transform="translate(195.70 332.10) scale(0.985 1.02)"><tspan x="-87.58 -52.54 -35.04" y="0">0.8</tspan></text>
<text transform="translate(195.70 107.40) scale(0.985 1.02)"><tspan x="-34.28" y="0.60" font-family="IPAPGothic, 'Liberation Sans', sans-serif" font-size="59.98">1</tspan></text>
<text transform="translate(219.40 1292.40) scale(0.985 1.0)"><tspan x="-17.52" y="0">0</tspan></text>
<text transform="translate(655.48 1292.40) scale(0.985 1.0)"><tspan x="-35.04 0.00" y="0">50</tspan></text>
<text transform="translate(1089.87 1292.40) scale(0.985 1.0)"><tspan x="-51.80" y="0.60" font-family="IPAPGothic, 'Liberation Sans', sans-serif" font-size="59.98">1</tspan><tspan x="-17.52 17.52" y="0">00</tspan></text>
<text transform="translate(1524.75 1292.40) scale(0.985 1.0)"><tspan x="-51.80" y="0.60" font-family="IPAPGothic, 'Liberation Sans', sans-serif" font-size="59.98">1</tspan><tspan x="-17.52 17.52" y="0">50</tspan></text>
</g>
<g font-family="Liberation Sans, Arial, sans-serif" font-size="69.1" fill="#262626" stroke="#262626" stroke-width="0.8">
<text transform="translate(578.00 1383.80) scale(1.0 1.0)">Phase variance</text>
<text transform="translate(1170.00 1383.80) scale(1.0 1.0)">(degree)</text>
<text transform="translate(77.00 616.90) rotate(-90) scale(0.998 1.0)" text-anchor="middle">Normalized coherence gain E[G]</text>
</g>
<g font-family="Liberation Serif, serif" font-style="italic" fill="#262626" stroke="#262626" stroke-width="0.2">
<text font-size="57.5" font-family="DejaVu Serif, serif" stroke-width="0" transform="translate(1075.20 1385.10) scale(1.0 1.0)">&#963;</text>
<text font-size="54.7" transform="translate(1117.60 1418.60) scale(1.145 1.0)">&#981;</text>
</g>
<rect x="1398.5" y="65.5" width="351.4" height="382.4" fill="#fff" stroke="#262626" stroke-width="3"/>
<path d="M1412 108.5H1557" stroke="#ff0000" stroke-width="10.5" shape-rendering="crispEdges"/>
<path d="M1412 182.6H1557" stroke="#00ff00" stroke-width="10.5" shape-rendering="crispEdges"/>
<path d="M1412 256.7H1557" stroke="#0000ff" stroke-width="10.5" shape-rendering="crispEdges"/>
<path d="M1412 330.8H1557" stroke="#00ffff" stroke-width="10.5" shape-rendering="crispEdges"/>
<path d="M1412 404.9H1557" stroke="#ff00ff" stroke-width="10.5" shape-rendering="crispEdges"/>
<g font-family="Liberation Sans, Arial, sans-serif" font-size="56.3" fill="#000" stroke="#000" stroke-width="0.8">
<text transform="translate(1566.20 129.00) scale(1.0 1.012)"><tspan x="0.00 41.96 73.54" y="0">N=2</tspan></text>
<text transform="translate(1566.20 203.10) scale(1.0 1.012)"><tspan x="0.00 41.96 73.54" y="0">N=5</tspan></text>
<text transform="translate(1566.20 277.20) scale(1.0 1.012)"><tspan x="0.00 41.96" y="0">N=</tspan><tspan x="74.21" y="0.53" font-family="IPAPGothic, 'Liberation Sans', sans-serif" font-size="53.60">1</tspan><tspan x="104.85" y="0">0</tspan></text>
<text transform="translate(1566.20 351.30) scale(1.0 1.012)"><tspan x="0.00 41.96 73.54 104.85" y="0">N=20</tspan></text>
<text transform="translate(1566.20 425.40) scale(1.0 1.012)"><tspan x="0.00 41.96" y="0">N=</tspan><tspan x="74.21" y="0.53" font-family="IPAPGothic, 'Liberation Sans', sans-serif" font-size="53.60">1</tspan><tspan x="104.85 136.16" y="0">00</tspan></text>
</g>
</svg>
</body></html>
